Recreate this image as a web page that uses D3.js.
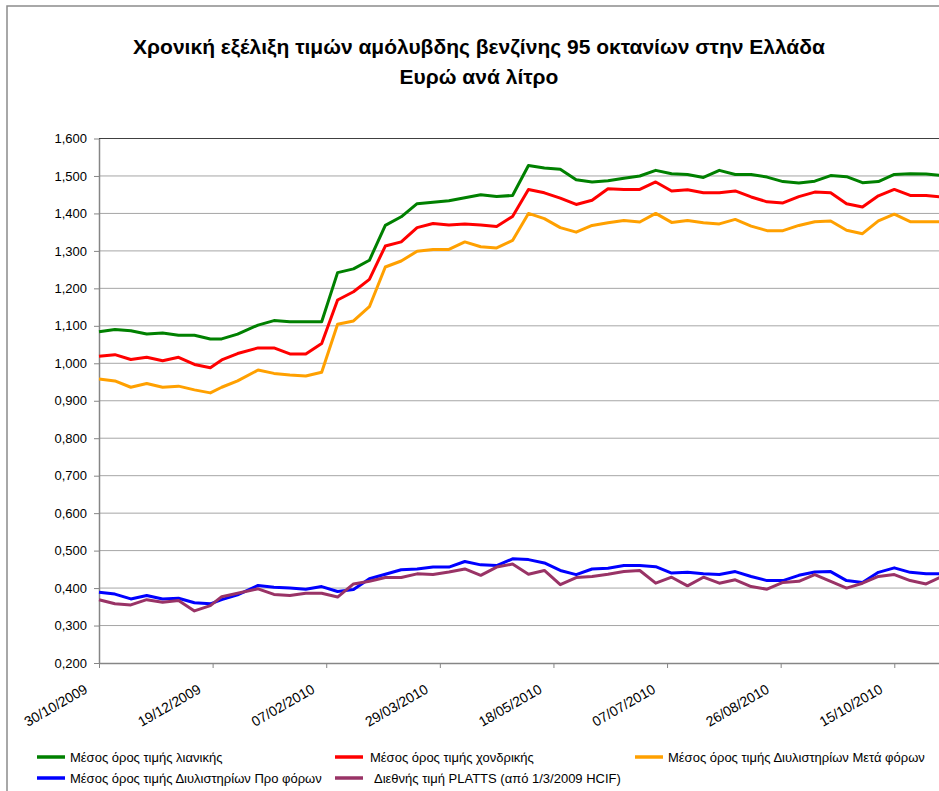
<!DOCTYPE html>
<html>
<head>
<meta charset="utf-8">
<script src="https://cdn.jsdelivr.net/npm/d3@7"></script>
<style>
body { margin: 0; background: #fff; }
svg { display: block; font-family: "Liberation Sans", Arial, sans-serif; }
</style>
</head>
<body>
<svg id="chart" width="939" height="791"></svg>
<script>
// weekly observations (two mid-week dates around the holidays)
var dates = [
	'2009-10-30', '2009-11-06', '2009-11-13', '2009-11-20', '2009-11-27', '2009-12-04',
	'2009-12-11', '2009-12-18', '2009-12-23', '2009-12-30', '2010-01-08', '2010-01-15',
	'2010-01-22', '2010-01-29', '2010-02-05', '2010-02-12', '2010-02-19', '2010-02-26',
	'2010-03-05', '2010-03-12', '2010-03-19', '2010-03-26', '2010-04-02', '2010-04-09',
	'2010-04-16', '2010-04-23', '2010-04-30', '2010-05-07', '2010-05-14', '2010-05-21',
	'2010-05-28', '2010-06-04', '2010-06-11', '2010-06-18', '2010-06-25', '2010-07-02',
	'2010-07-09', '2010-07-16', '2010-07-23', '2010-07-30', '2010-08-06', '2010-08-13',
	'2010-08-20', '2010-08-27', '2010-09-03', '2010-09-10', '2010-09-17', '2010-09-24',
	'2010-10-01', '2010-10-08', '2010-10-15', '2010-10-22', '2010-10-29', '2010-11-05'
];

var retail = [
	1.084, 1.090, 1.087, 1.078, 1.081, 1.075, 1.075, 1.065, 1.065, 1.078, 1.102, 1.114,
	1.111, 1.111, 1.111, 1.242, 1.252, 1.275,
	1.368, 1.391, 1.426, 1.430, 1.434, 1.442, 1.450, 1.445, 1.448, 1.528, 1.521, 1.518,
	1.490, 1.484, 1.487, 1.494, 1.500,
	1.515, 1.506, 1.504, 1.496, 1.515, 1.504, 1.504, 1.497, 1.485, 1.481, 1.486, 1.501,
	1.498, 1.482, 1.485, 1.504, 1.506, 1.505, 1.501
];

var wholesale = [
	1.019, 1.023, 1.010, 1.016, 1.007, 1.016, 0.997, 0.988, 1.009, 1.026, 1.041, 1.041,
	1.025, 1.025, 1.053, 1.169, 1.191, 1.224,
	1.313, 1.324, 1.362, 1.373, 1.369, 1.372, 1.369, 1.365, 1.392, 1.464, 1.455, 1.441,
	1.424, 1.435, 1.466, 1.464, 1.464,
	1.484, 1.460, 1.463, 1.455, 1.455, 1.460, 1.444, 1.431, 1.428, 1.445, 1.457, 1.455,
	1.426, 1.417, 1.447, 1.464, 1.448, 1.448, 1.444
];

var refineryAfterTax = [
	0.958, 0.953, 0.936, 0.946, 0.936, 0.939, 0.929, 0.921, 0.936, 0.953, 0.982, 0.973,
	0.969, 0.966, 0.976, 1.104, 1.113, 1.151,
	1.257, 1.273, 1.299, 1.304, 1.304, 1.324, 1.311, 1.308, 1.328, 1.400, 1.386, 1.362,
	1.350, 1.368, 1.375, 1.381, 1.377,
	1.400, 1.376, 1.381, 1.375, 1.372, 1.384, 1.366, 1.354, 1.354, 1.368, 1.378, 1.380,
	1.355, 1.346, 1.380, 1.398, 1.378, 1.378, 1.378
];

var refineryPreTax = [
	0.389, 0.384, 0.371, 0.380, 0.371, 0.373, 0.361, 0.358, 0.369, 0.382, 0.407, 0.402,
	0.400, 0.397, 0.404, 0.391,
	0.396, 0.425, 0.437, 0.449, 0.451, 0.456, 0.456, 0.471, 0.462, 0.460, 0.478, 0.476,
	0.467, 0.447, 0.436, 0.451, 0.453, 0.460, 0.460,
	0.457, 0.440, 0.442, 0.438, 0.436, 0.444, 0.431, 0.420, 0.420, 0.434, 0.443, 0.444,
	0.420, 0.415, 0.442, 0.454, 0.442, 0.438, 0.438
];

var platts = [
	0.369, 0.358, 0.355, 0.369, 0.362, 0.367, 0.339, 0.353, 0.377, 0.386, 0.398, 0.383,
	0.380, 0.386, 0.386, 0.376,
	0.411, 0.418, 0.428, 0.428, 0.438, 0.436, 0.443, 0.451, 0.434, 0.456, 0.464, 0.437,
	0.447, 0.409, 0.428, 0.431, 0.437, 0.444, 0.447,
	0.413, 0.429, 0.406, 0.429, 0.413, 0.422, 0.404, 0.397, 0.415, 0.418, 0.436, 0.418,
	0.400, 0.413, 0.431, 0.436, 0.420, 0.411, 0.431
];

var seriesNames = [
	'Μέσος όρος τιμής λιανικής',
	'Μέσος όρος τιμής χονδρικής',
	'Μέσος όρος τιμής Διυλιστηρίων Μετά φόρων',
	'Μέσος όρος τιμής Διυλιστηρίων Προ φόρων',
	'Διεθνής τιμή PLATTS (από 1/3/2009 HCIF)'
];

var xTickLabels = ['30/10/2009', '19/12/2009', '07/02/2010', '29/03/2010',
	'18/05/2010', '07/07/2010', '26/08/2010', '15/10/2010'];

var yTicks = [0.2, 0.3, 0.4, 0.5, 0.6, 0.7, 0.8, 0.9, 1.0, 1.1, 1.2, 1.3, 1.4, 1.5, 1.6];

var titleLines = ['Χρονική εξέλιξη τιμών αμόλυβδης βενζίνης 95 οκτανίων στην Ελλάδα', 'Ευρώ ανά λίτρο'];

var parseDate = d3.utcParse('%Y-%m-%d');
var parseTick = d3.utcParse('%d/%m/%Y');
var colors = ['#008000', '#ff0000', '#ffa000', '#0000ff', '#993366'];
var allValues = [retail, wholesale, refineryAfterTax, refineryPreTax, platts];

var series = allValues.map(function (vals, i) {
	return {
		name: seriesNames[i],
		color: colors[i],
		points: vals.map(function (v, j) { return { date: parseDate(dates[j]), v: v }; })
	};
});

var svg = d3.select('#chart');

// outer chart frame (right and bottom fall outside the picture)
svg.append('rect')
	.attr('x', 7).attr('y', 6)
	.attr('width', 1000).attr('height', 1000)
	.attr('fill', 'none')
	.attr('stroke', '#8c8c8c')
	.attr('stroke-width', 1.5);

var plotLeft = 99, plotRight = 942, plotTop = 138.5, plotBottom = 663;

var x = d3.scaleUtc()
	.domain([parseDate(dates[0]), parseDate(dates[dates.length - 1])])
	.range([plotLeft, plotRight]);

var y = d3.scaleLinear()
	.domain([0.2, 1.6])
	.range([plotBottom, plotTop]);

var locale = d3.formatLocale({ decimal: ',', thousands: '.', grouping: [3], currency: ['', '€'] });
var yFormat = locale.format('.3f');

// gridlines
svg.append('g')
	.selectAll('line')
	.data(yTicks.slice(1))
	.join('line')
	.attr('x1', plotLeft).attr('x2', plotRight)
	.attr('y1', function (d) { return y(d); })
	.attr('y2', function (d) { return y(d); })
	.attr('stroke', function (d) { return d > 1.55 ? '#404040' : '#a6a6a6'; })
	.attr('stroke-width', 1);

var yAxis = svg.append('g')
	.attr('transform', `translate(${plotLeft},0)`)
	.call(d3.axisLeft(y).tickValues(yTicks).tickSize(5).tickSizeOuter(0).tickFormat(yFormat));
yAxis.select('.domain').attr('stroke', '#868686').attr('stroke-width', 1.5);
yAxis.selectAll('.tick line').attr('stroke', '#868686');
yAxis.selectAll('text').attr('font-size', 13).attr('fill', '#000').attr('x', -12);

var xAxis = svg.append('g')
	.attr('transform', `translate(0,${plotBottom})`)
	.call(d3.axisBottom(x)
		.tickValues(xTickLabels.map(function (s) { return parseTick(s); }))
		.tickSize(5).tickSizeOuter(0)
		.tickFormat(function (d, i) { return xTickLabels[i]; }));
xAxis.select('.domain').attr('stroke', '#868686').attr('stroke-width', 1.5);
xAxis.selectAll('.tick line').attr('stroke', '#868686');
xAxis.selectAll('text')
	.attr('font-size', 14)
	.attr('fill', '#000')
	.attr('text-anchor', 'end')
	.attr('x', 0).attr('y', 0).attr('dy', 0)
	.attr('transform', 'translate(-11,29) rotate(-30)');

var line = d3.line()
	.x(function (d) { return x(d.date); })
	.y(function (d) { return y(d.v); });

svg.append('g')
	.selectAll('path')
	.data(series)
	.join('path')
	.attr('d', function (d) { return line(d.points); })
	.attr('fill', 'none')
	.attr('stroke', function (d) { return d.color; })
	.attr('stroke-width', 3)
	.attr('stroke-linejoin', 'round');

// title
svg.append('g')
	.selectAll('text')
	.data(titleLines)
	.join('text')
	.attr('x', 479)
	.attr('y', function (d, i) { return 54 + i * 30; })
	.attr('text-anchor', 'middle')
	.attr('font-size', 21)
	.attr('font-weight', 'bold')
	.text(function (d) { return d; });

// legend, 3 + 2 entries
var legendPos = [[37, 757], [335, 757], [635, 757], [37, 778], [335, 778]];
var textGap = [5, 7, 5, 5, 11];
var legend = svg.append('g')
	.selectAll('g')
	.data(series)
	.join('g')
	.attr('transform', function (d, i) { return `translate(${legendPos[i][0]},${legendPos[i][1]})`; });

legend.append('line')
	.attr('x1', 0).attr('x2', 28)
	.attr('stroke', function (d) { return d.color; })
	.attr('stroke-width', 3.5);

legend.append('text')
	.attr('x', function (d, i) { return 28 + textGap[i]; })
	.attr('dy', '0.35em')
	.attr('font-size', 13)
	.text(function (d) { return d.name; });
</script>
</body>
</html>
